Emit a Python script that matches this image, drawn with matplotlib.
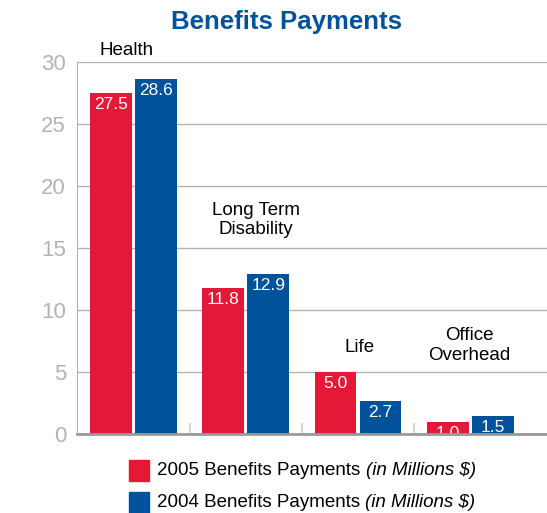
import matplotlib.pyplot as plt
import numpy as np

# Данные графика
categories = ["Health", "Long Term\nDisability", "Life", "Office\nOverhead"]
payments_2005 = [27.5, 11.8, 5.0, 1.0]
payments_2004 = [28.6, 12.9, 2.7, 1.5]
yticks = [0, 5, 10, 15, 20, 25, 30]
series_names = ["2005 Benefits Payments ", "2004 Benefits Payments "]
unit_text = "(in Millions $)"

# где стоят подписи категорий (в координатах данных)
label_pos = [(-0.06, 30.9), (1.09, 17.25), (2.01, 7.0), (2.99, 7.15)]

RED = "#e31937"
BLUE = "#00529b"
GRAY = "#b3b3b3"

plt.rcParams["font.family"] = ["Liberation Sans", "DejaVu Sans"]

fig = plt.figure(figsize=(5.47, 5.13), dpi=100)
ax = fig.add_axes([0.141, 0.1534, 0.859, 0.7263])

x = np.arange(len(categories))
w = 0.37
bars_05 = ax.bar(x - 0.2, payments_2005, w, color=RED, zorder=3)
bars_04 = ax.bar(x + 0.2, payments_2004, w, color=BLUE, zorder=3)

# подписи значений внутри столбцов
for bars, vals in [(bars_05, payments_2005), (bars_04, payments_2004)]:
    for b, v in zip(bars, vals):
        ax.annotate(f"{v:.1f}", (b.get_x() + b.get_width() / 2, v),
                    xytext=(0, -3), textcoords="offset points",
                    ha="center", va="top", color="white", fontsize=12.5, zorder=4)

# подписи категорий над группами
for name, (lx, ly) in zip(categories, label_pos):
    ax.text(lx, ly, name, ha="center", va="center", fontsize=13.5, color="black",
            linespacing=1.17, clip_on=False)

ax.set_xlim(-0.5, 3.68)
ax.set_ylim(0, 30)
ax.set_yticks(yticks)
ax.set_yticklabels([str(t) for t in yticks], color=GRAY, fontsize=16)
ax.tick_params(axis="y", length=0, pad=8)
ax.set_xticks([0.5, 1.5, 2.5])
ax.set_xticklabels([])
ax.tick_params(axis="x", direction="in", length=8, width=1.2, color="#cccccc")
ax.yaxis.grid(True, color=GRAY, linewidth=1, zorder=0)
for s in ["top", "right"]:
    ax.spines[s].set_visible(False)
ax.spines["left"].set_color(GRAY)
ax.spines["bottom"].set_color("#999999")
ax.spines["bottom"].set_linewidth(2)
ax.spines["bottom"].set_zorder(5)

fig.text(0.523, 0.957, "Benefits Payments", ha="center", va="center",
         fontsize=18.5, fontweight="bold", color=BLUE)

# легенда вручную (курсивная часть)
for i, (name, col) in enumerate(zip(series_names, [RED, BLUE])):
    yc = 1 - (470.5 + 32 * i) / 513
    fig.add_artist(plt.Rectangle((129 / 547, yc - 10.5 / 513), 20 / 547, 21 / 513,
                                 transform=fig.transFigure, color=col))
    t = fig.text(157 / 547, yc, name, ha="left", va="center", fontsize=13.5)
    ax.annotate(unit_text, xy=(1, 0), xycoords=t, ha="left", va="bottom",
                fontsize=13.5, style="italic", annotation_clip=False)

fig.savefig("out.png", dpi=100)
